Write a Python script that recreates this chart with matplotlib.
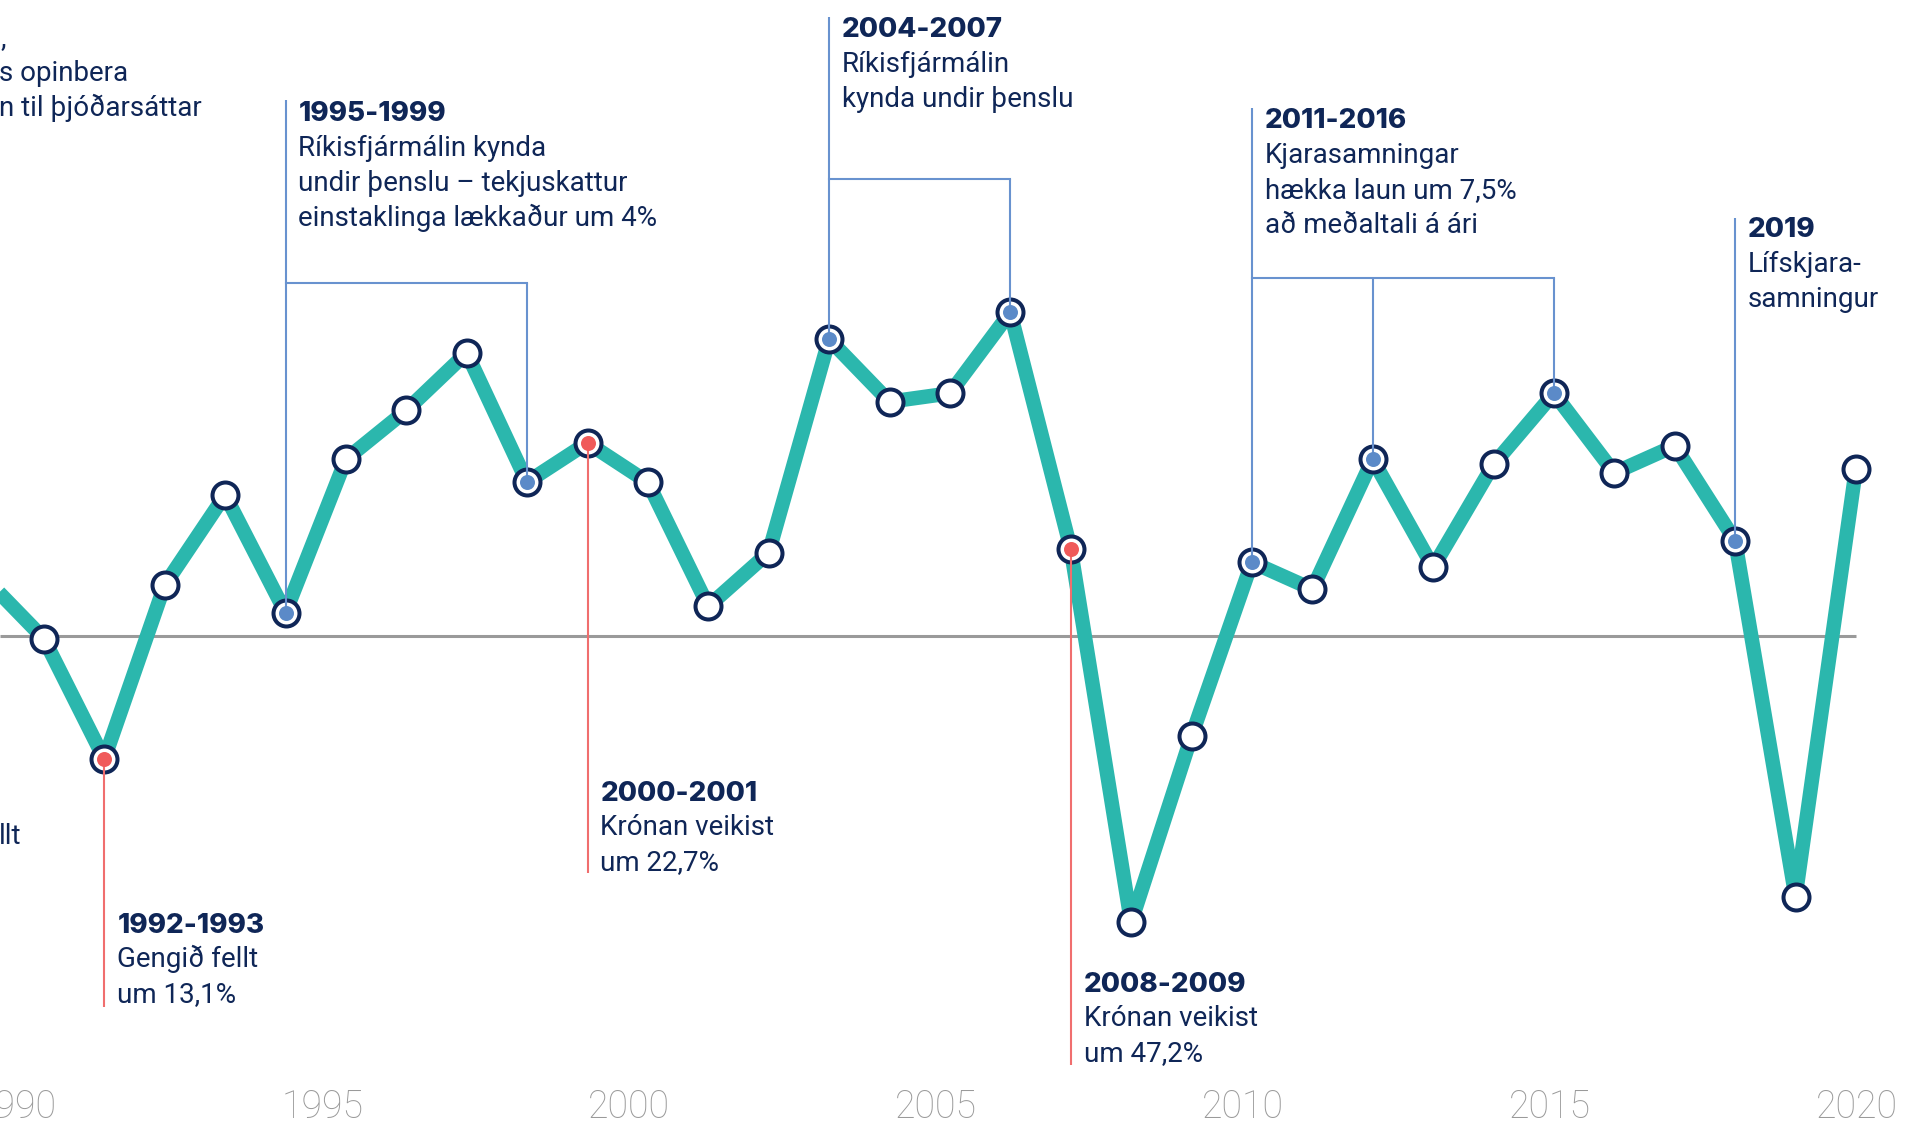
import matplotlib
matplotlib.use("Agg")
import matplotlib.pyplot as plt

# ---------------- data ----------------
years = list(range(1989, 2021))
values = [1.99, -0.08, -4.09, 1.71, 4.71, 0.79, 5.90, 7.53, 9.45, 5.14,
          6.45, 5.13, 1.00, 2.79, 9.90, 7.82, 8.10, 10.80, 2.92, -9.54,
          -3.33, 2.47, 1.57, 5.90, 2.30, 5.73, 8.10, 5.45, 6.35, 3.19,
          -8.68, 5.58]
blue_years = [1994, 1998, 2003, 2006, 2010, 2012, 2015, 2018]
red_years = [1991, 1999, 2007]
tick_years = [1990, 1995, 2000, 2005, 2010, 2015, 2020]

top_heads = ["1995-1999", "2004-2007", "2011-2016", "2019"]
top_bodies = [["Ríkisfjármálin kynda", "undir þenslu – tekjuskattur", "einstaklinga lækkaður um 4%"],
              ["Ríkisfjármálin", "kynda undir þenslu"],
              ["Kjarasamningar", "hækka laun um 7,5%", "að meðaltali á ári"],
              ["Lífskjara-", "samningur"]]
top_groups = [[1994, 1998], [2003, 2006], [2010, 2012, 2015], [2018]]

bottom_heads = ["1992-1993", "2000-2001", "2008-2009"]
bottom_bodies = [["Gengið fellt", "um 13,1%"],
                 ["Krónan veikist", "um 22,7%"],
                 ["Krónan veikist", "um 47,2%"]]
bottom_years = [1991, 1999, 2007]

# fragments of notes cut off at the left edge
left_fragments = [",", "s opinbera", "n til þjóðarsáttar"]
left_bottom_fragment = "llt"

# ---------------- style ----------------
TEAL = "#2bb7ad"
NAVY = "#0f2657"
BLUE = "#5b8ac8"
BLUE_LINE = "#6892cf"
RED = "#f05a5a"
RED_LINE = "#f06e6e"
GREY = "#9a9a9a"
BODY = ["Roboto", "DejaVu Sans"]
HEAD = ["Inter", "DejaVu Sans"]

W, H = 1921, 1125
fig = plt.figure(figsize=(W / 100, H / 100), dpi=100)
ax = fig.add_axes([0, 0, 1, 1])
ax.set_axis_off()

X0_PX, STEP_PX = 43.9, 60.4   # pixel x of 1990, pixels per year
Y0_PX, UNIT_PX = 636.3, 30.0  # pixel y of zero, pixels per unit
xmin = 1990 - X0_PX / STEP_PX
xmax = 1990 + (W - X0_PX) / STEP_PX
ax.set_xlim(xmin, xmax)
ax.set_ylim((Y0_PX - H) / UNIT_PX, Y0_PX / UNIT_PX)


def px_x(p):
    return 1990 + (p - X0_PX) / STEP_PX


def px_y(p):
    return (Y0_PX - p) / UNIT_PX


def val(y):
    return values[years.index(y)]


# zero line
ax.plot([xmin, years[-1]], [0, 0], color=GREY, lw=2.2, zorder=1, solid_capstyle="butt")

# main line
ax.plot(years, values, color=TEAL, lw=10.4, zorder=2, solid_joinstyle="round",
        solid_capstyle="butt")

# markers
ax.plot(years, values, ls="none", marker="o", ms=18.7, mew=2.9,
        mfc="white", mec=NAVY, zorder=3)

LW_C = 1.5
top_layout = [dict(top=100, bar=283, base=120.7),
              dict(top=17, bar=179, base=36.7),
              dict(top=108, bar=278, base=128.3),
              dict(top=218, bar=None, base=236.7)]
for group, head, body, lay in zip(top_groups, top_heads, top_bodies, top_layout):
    first = group[0]
    ax.plot([first, first], [val(first), px_y(lay["top"])], color=BLUE_LINE, lw=LW_C,
            zorder=4, solid_capstyle="butt")
    if lay["bar"] is not None:
        ax.plot([group[0], group[-1]], [px_y(lay["bar"])] * 2, color=BLUE_LINE, lw=LW_C,
                zorder=4, solid_capstyle="projecting")
        for g in group[1:]:
            ax.plot([g, g], [px_y(lay["bar"]), val(g)], color=BLUE_LINE, lw=LW_C,
                    zorder=4, solid_capstyle="butt")
    x_txt = first + 13 / STEP_PX
    ax.text(x_txt, px_y(lay["base"]), head, family=HEAD, weight="heavy", size=20,
            color=NAVY, va="baseline", ha="left", zorder=6)
    for i, line in enumerate(body):
        ax.text(x_txt, px_y(lay["base"] + 35 * (i + 1)), line, family=BODY, size=20,
                color=NAVY, va="baseline", ha="left", zorder=6)

bottom_layout = [dict(bottom=1007, base=933),
                 dict(bottom=873, base=801),
                 dict(bottom=1065, base=991.7)]
for y0, head, body, lay in zip(bottom_years, bottom_heads, bottom_bodies, bottom_layout):
    ax.plot([y0, y0], [val(y0), px_y(lay["bottom"])], color=RED_LINE, lw=LW_C,
            zorder=4, solid_capstyle="butt")
    x_txt = y0 + 13 / STEP_PX
    ax.text(x_txt, px_y(lay["base"]), head, family=HEAD, weight="heavy", size=20,
            color=NAVY, va="baseline", ha="left", zorder=6)
    for i, line in enumerate(body):
        ax.text(x_txt, px_y(lay["base"] + 34.5 * (i + 1)), line, family=BODY, size=20,
                color=NAVY, va="baseline", ha="left", zorder=6)

# inner dots
ax.plot(blue_years, [val(y) for y in blue_years], ls="none", marker="o", ms=10.8,
        mew=0, mfc=BLUE, zorder=5)
ax.plot(red_years, [val(y) for y in red_years], ls="none", marker="o", ms=10.8,
        mew=0, mfc=RED, zorder=5)

# cut-off notes at the left edge
for frag, base in zip(left_fragments, [46.5, 81.5, 116]):
    ax.text(px_x(-1 if frag != "," else 1), px_y(base), frag, family=BODY, size=20,
            color=NAVY, va="baseline", ha="left")
ax.text(px_x(-1), px_y(844), left_bottom_fragment, family=BODY, size=20, color=NAVY,
        va="baseline", ha="left")

# year labels (slightly wider spacing than the points, as in the original)
for y in tick_years:
    pos = px_x(15.2 + (y - 1990) * 61.4)
    ax.text(pos, px_y(1118), str(y), family=["Roboto", "DejaVu Sans"], weight="light",
            size=27, color=GREY, ha="center", va="baseline")

fig.savefig("out.png", dpi=100, facecolor="white")
